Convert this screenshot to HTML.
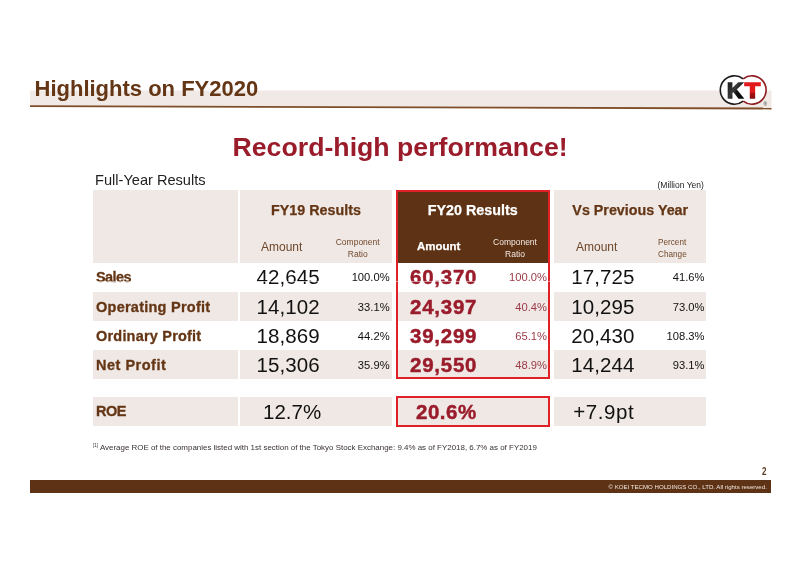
<!DOCTYPE html>
<html><head><meta charset="utf-8">
<style>
*{margin:0;padding:0;box-sizing:border-box}
html,body{width:800px;height:565px;background:#fff;overflow:hidden}
body{position:relative;font-family:"Liberation Sans",sans-serif;color:#111}
.a{position:absolute;white-space:nowrap;line-height:1}
.bg{position:absolute;background:#efe8e5}
.br{color:#643615}
.rd{color:#9a1c2b}
.rp{color:#9c3a47}
.b{font-weight:bold}
.lab{-webkit-text-stroke:0.3px #643615}
.n2{-webkit-text-stroke:0.45px #9a1c2b}
#h1,#h3{-webkit-text-stroke:0.25px #643615}
#h2,#am2{-webkit-text-stroke:0.25px #fff}
.r{text-align:right}
.c{text-align:center}
</style></head><body>
<!-- title band -->
<svg class="a" style="left:0;top:0" width="800" height="120" viewBox="0 0 800 120">
<polygon points="30,90.6 771.5,90.6 771.5,108.4 30,106.2" fill="#f1e9e5"/>
<line x1="30" y1="106.2" x2="771.5" y2="108.5" stroke="#7f4e28" stroke-width="1.8"/>
</svg>
<div class="a b br" id="title" style="left:34.5px;top:78.4px;font-size:22px">Highlights on FY2020</div>
<!-- logo -->
<svg class="a" style="left:712px;top:70px" width="64" height="42" viewBox="712 70 64 42">
<defs>
<linearGradient id="gk" x1="0" y1="0" x2="1" y2="1"><stop offset="0" stop-color="#111"/><stop offset="0.45" stop-color="#3a3a3a"/><stop offset="0.6" stop-color="#111"/><stop offset="1" stop-color="#000"/></linearGradient>
<linearGradient id="gt" x1="0" y1="0" x2="0" y2="1"><stop offset="0" stop-color="#e3191c"/><stop offset="0.55" stop-color="#e01a1c"/><stop offset="0.62" stop-color="#a31014"/><stop offset="1" stop-color="#6e0a0c"/></linearGradient>
</defs>
<circle cx="734.5" cy="90" r="14.2" fill="#fff"/>
<circle cx="751.9" cy="90" r="14.2" fill="#fff"/>
<path d="M743.2 78.78 A14.2 14.2 0 1 0 743.2 101.22" fill="none" stroke="#1c1a1a" stroke-width="1.6"/>
<path d="M743.2 78.78 A14.2 14.2 0 1 1 743.2 101.22" fill="none" stroke="#8e1b1f" stroke-width="1.6"/>
<text id="lk" transform="translate(727.1 98.2) scale(1.0 1)" font-family="Liberation Sans,sans-serif" font-weight="bold" font-size="22" fill="url(#gk)" stroke="url(#gk)" stroke-width="1.6">K</text>
<text id="lt" transform="translate(744.7 98.2) scale(1.15 1)" font-family="Liberation Sans,sans-serif" font-weight="bold" font-size="22" fill="url(#gt)" stroke="url(#gt)" stroke-width="1.5">T</text>
<text x="763.6" y="105.6" font-family="Liberation Sans,sans-serif" font-weight="bold" font-size="5" fill="#666">®</text>
</svg>
<!-- headline -->
<div class="a b rd" id="headline" style="left:232.5px;top:134px;font-size:26.7px">Record-high performance!</div>
<div class="a" id="fyr" style="left:95px;top:172.5px;font-size:14.6px;color:#222">Full-Year Results</div>
<div class="a" id="my" style="left:657.5px;top:181px;font-size:8.5px;color:#222">(Million Yen)</div>

<!-- table backgrounds -->
<div class="bg" style="left:93.25px;top:190px;width:144.75px;height:72.5px"></div>
<div class="bg" style="left:239.5px;top:190px;width:152.8px;height:72.5px"></div>
<div class="bg" style="left:396px;top:190px;width:153.5px;height:72.5px;background:#5e3214"></div>
<div class="bg" style="left:554px;top:190px;width:152.3px;height:72.5px"></div>
<div class="bg" style="left:93.25px;top:291.5px;width:144.75px;height:29px"></div>
<div class="bg" style="left:239.5px;top:291.5px;width:152.8px;height:29px"></div>
<div class="bg" style="left:396px;top:291.5px;width:153.5px;height:29px"></div>
<div class="bg" style="left:554px;top:291.5px;width:152.3px;height:29px"></div>
<div class="bg" style="left:93.25px;top:349.7px;width:144.75px;height:29.4px"></div>
<div class="bg" style="left:239.5px;top:349.7px;width:152.8px;height:29.4px"></div>
<div class="bg" style="left:396px;top:349.7px;width:153.5px;height:29.4px"></div>
<div class="bg" style="left:554px;top:349.7px;width:152.3px;height:29.4px"></div>
<div class="bg" style="left:93.25px;top:397px;width:144.75px;height:29px"></div>
<div class="bg" style="left:239.5px;top:397px;width:152.8px;height:29px"></div>
<div class="bg" style="left:396px;top:397px;width:153.5px;height:29px"></div>
<div class="bg" style="left:554px;top:397px;width:152.3px;height:29px"></div>

<!-- red frames -->
<div class="a" style="left:395.5px;top:189.5px;width:154.5px;height:189.8px;border:2.1px solid #df2027"></div>
<div class="a" style="left:395.5px;top:396.4px;width:154.5px;height:30.4px;border:2.1px solid #df2027"></div>

<!-- headers -->
<div class="a b br c" id="h1" style="left:239.5px;width:153px;top:202.8px;font-size:14.3px">FY19 Results</div>
<div class="a b c" id="h2" style="left:396px;width:153.5px;top:202.8px;font-size:14.3px;color:#fff">FY20 Results</div>
<div class="a b br c" id="h3" style="left:554px;width:152.5px;top:203.1px;font-size:14.3px">Vs Previous Year</div>

<div class="a" id="am1" style="color:#6e4628;left:261px;top:241px;font-size:12px">Amount</div>
<div class="a b" id="am2" style="left:417px;top:241px;font-size:11.5px;color:#fff">Amount</div>
<div class="a" id="am3" style="color:#6e4628;left:576px;top:241px;font-size:12px">Amount</div>
<div class="a c" id="cr1" style="color:#73492b;left:327.7px;width:60px;top:235.8px;font-size:8.5px;line-height:12px">Component<br>Ratio</div>
<div class="a c" id="cr2" style="left:485px;width:60px;top:235.8px;font-size:8.5px;line-height:12px;color:#f3e9e3">Component<br>Ratio</div>
<div class="a" id="pc" style="color:#73492b;left:658px;top:236.6px;font-size:8.2px;line-height:12px">Percent<br>Change</div>

<!-- row labels -->
<div class="a b br lab" style="left:96px;top:270.1px;font-size:14.5px;letter-spacing:-0.6px">Sales</div>
<div class="a b br lab" style="left:96px;top:299.65px;font-size:14.5px;letter-spacing:0.25px">Operating Profit</div>
<div class="a b br lab" style="left:96px;top:328.75px;font-size:14.5px;letter-spacing:0.2px">Ordinary Profit</div>
<div class="a b br lab" style="left:96px;top:357.85px;font-size:14.5px;letter-spacing:0.5px">Net Profit</div>
<div class="a b br lab" style="left:96px;top:404px;font-size:14.5px;letter-spacing:-0.5px">ROE</div>
<!-- n1 -->
<div class="a n1" style="left:256.5px;top:267px;font-size:20.5px;letter-spacing:0.1px">42,645</div>
<div class="a n1" style="left:256.5px;top:297px;font-size:20.5px;letter-spacing:0.1px">14,102</div>
<div class="a n1" style="left:256.5px;top:326px;font-size:20.5px;letter-spacing:0.1px">18,869</div>
<div class="a n1" style="left:256.5px;top:355px;font-size:20.5px;letter-spacing:0.1px">15,306</div>
<div class="a r p1" style="left:319.6px;width:70px;top:272px;font-size:11.2px">100.0%</div>
<div class="a r p1" style="left:319.6px;width:70px;top:302px;font-size:11.2px">33.1%</div>
<div class="a r p1" style="left:319.6px;width:70px;top:331px;font-size:11.2px">44.2%</div>
<div class="a r p1" style="left:319.6px;width:70px;top:360px;font-size:11.2px">35.9%</div>
<div class="a n1" style="left:263px;top:402px;font-size:20.5px;letter-spacing:0px">12.7%</div>
<!-- n2 -->
<div class="a b rd n2" style="left:410px;top:267px;font-size:20.5px;letter-spacing:0.75px">60,370</div>
<div class="a b rd n2" style="left:410px;top:297px;font-size:20.5px;letter-spacing:0.75px">24,397</div>
<div class="a b rd n2" style="left:410px;top:326px;font-size:20.5px;letter-spacing:0.75px">39,299</div>
<div class="a b rd n2" style="left:410px;top:355px;font-size:20.5px;letter-spacing:0.75px">29,550</div>
<div class="a r rp p2" style="left:477px;width:70px;top:272px;font-size:11.2px">100.0%</div>
<div class="a r rp p2" style="left:477px;width:70px;top:302px;font-size:11.2px">40.4%</div>
<div class="a r rp p2" style="left:477px;width:70px;top:331px;font-size:11.2px">65.1%</div>
<div class="a r rp p2" style="left:477px;width:70px;top:360px;font-size:11.2px">48.9%</div>
<div class="a b rd n2" style="left:416px;top:402px;font-size:20.5px;letter-spacing:0.5px">20.6%</div>
<!-- n3 -->
<div class="a n3" style="left:571.3px;top:267px;font-size:20.5px;letter-spacing:0.1px">17,725</div>
<div class="a n3" style="left:571.3px;top:297px;font-size:20.5px;letter-spacing:0.1px">10,295</div>
<div class="a n3" style="left:571.3px;top:326px;font-size:20.5px;letter-spacing:0.1px">20,430</div>
<div class="a n3" style="left:571.3px;top:355px;font-size:20.5px;letter-spacing:0.1px">14,244</div>
<div class="a r p3" style="left:634.5px;width:70px;top:272px;font-size:11.2px">41.6%</div>
<div class="a r p3" style="left:634.5px;width:70px;top:302px;font-size:11.2px">73.0%</div>
<div class="a r p3" style="left:634.5px;width:70px;top:331px;font-size:11.2px">108.3%</div>
<div class="a r p3" style="left:634.5px;width:70px;top:360px;font-size:11.2px">93.1%</div>
<div class="a n3" style="left:573.2px;top:402px;font-size:20.5px;letter-spacing:0.6px">+7.9pt</div>

<div class="a" style="left:93px;top:281px;width:613px;height:0.8px;background:rgba(255,255,255,.5)"></div>
<!-- footnote -->
<div class="a" id="fn" style="left:93px;top:444px;font-size:7.95px;color:#3a3330"><span style="font-size:4.6px;vertical-align:2.6px">[1]</span> Average ROE of the companies listed with 1st section of the Tokyo Stock Exchange: 9.4% as of FY2018, 6.7% as of FY2019</div>

<!-- footer -->
<div class="a" id="pg" style="left:761.7px;top:467.3px;font-size:10px;font-weight:bold;color:#5a3a22;transform:scaleX(.8);transform-origin:0 0">2</div>
<div class="bg" style="left:30px;top:479.5px;width:741.3px;height:13.5px;background:#5e3214"></div>
<div class="a" id="cp" style="left:608.5px;top:483.6px;font-size:6.1px;color:#f3e6df">© KOEI TECMO HOLDINGS CO., LTD. All rights reserved.</div>
</body></html>
